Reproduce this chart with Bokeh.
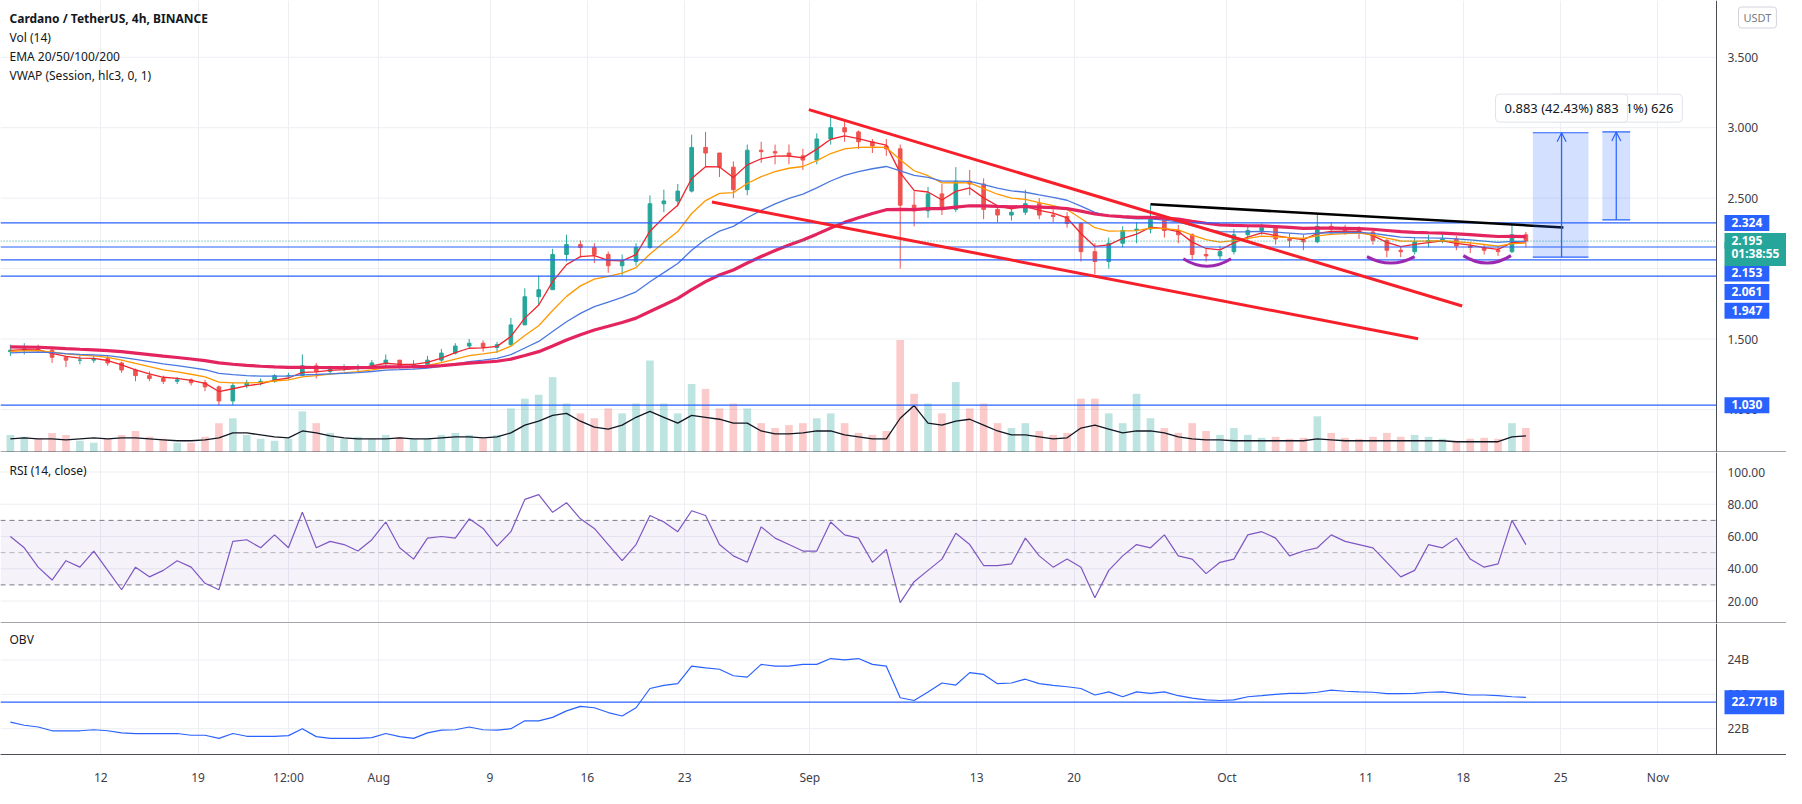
import numpy as np
from bokeh.plotting import figure
from bokeh.layouts import column
from bokeh.models import (Range1d, FixedTicker, Label, Span, Arrow, OpenHead, ColumnDataSource)
from bokeh.embed import file_html
from bokeh.resources import INLINE
from bokeh.core.properties import value

# ---------------- data (x = days since 2021-08-01, first candle = Jul 5) ----------------
first_day = -27
open0 = 1.41
close = [1.42, 1.43, 1.42, 1.37, 1.35, 1.35, 1.36, 1.33, 1.28, 1.24, 1.22, 1.20, 1.21, 1.19, 1.16, 1.06,
         1.17, 1.19, 1.20, 1.24, 1.24, 1.31, 1.27, 1.29, 1.29, 1.30, 1.33,
         1.35, 1.31, 1.32, 1.35, 1.40, 1.45, 1.47, 1.44, 1.46, 1.60, 1.80, 1.85, 2.10, 2.17, 2.15, 2.10,
         2.02, 2.05, 2.15, 2.46, 2.48, 2.55, 2.86, 2.82, 2.72, 2.56, 2.84, 2.83, 2.82, 2.80, 2.77,
         2.92, 3.00, 2.97, 2.90, 2.87, 2.85, 2.45, 2.41, 2.53, 2.42, 2.62, 2.60, 2.42, 2.38, 2.40, 2.46,
         2.38, 2.37, 2.32, 2.12, 2.05, 2.18, 2.27, 2.28, 2.35, 2.27, 2.24, 2.10, 2.09, 2.12,
         2.24, 2.27, 2.29, 2.21, 2.20, 2.19, 2.30, 2.28, 2.27, 2.26, 2.20, 2.13, 2.12, 2.19, 2.20, 2.21,
         2.16, 2.15, 2.13, 2.12, 2.24, 2.195]
high = [1.46, 1.47, 1.46, 1.44, 1.38, 1.38, 1.38, 1.38, 1.34, 1.29, 1.27, 1.24, 1.23, 1.22, 1.21, 1.17,
        1.19, 1.21, 1.22, 1.25, 1.26, 1.39, 1.33, 1.31, 1.32, 1.32, 1.35,
        1.39, 1.35, 1.35, 1.38, 1.43, 1.47, 1.50, 1.49, 1.48, 1.65, 1.86, 1.95, 2.14, 2.24, 2.20, 2.18,
        2.12, 2.10, 2.18, 2.52, 2.56, 2.60, 2.95, 2.97, 2.82, 2.76, 2.88, 2.90, 2.88, 2.88, 2.85,
        2.96, 3.08, 3.05, 2.98, 2.92, 2.92, 2.88, 2.55, 2.58, 2.60, 2.72, 2.70, 2.64, 2.45, 2.45, 2.56,
        2.50, 2.42, 2.40, 2.33, 2.18, 2.22, 2.30, 2.33, 2.45, 2.38, 2.31, 2.25, 2.14, 2.16,
        2.28, 2.31, 2.32, 2.30, 2.25, 2.24, 2.38, 2.33, 2.31, 2.30, 2.27, 2.21, 2.16, 2.22, 2.24, 2.25,
        2.23, 2.19, 2.17, 2.16, 2.31, 2.26]
low = [1.38, 1.39, 1.40, 1.33, 1.30, 1.32, 1.33, 1.31, 1.26, 1.20, 1.20, 1.18, 1.18, 1.17, 1.13, 1.03,
       1.03, 1.15, 1.17, 1.19, 1.21, 1.24, 1.22, 1.25, 1.27, 1.26, 1.29,
       1.31, 1.29, 1.29, 1.31, 1.33, 1.39, 1.43, 1.41, 1.40, 1.45, 1.60, 1.74, 1.85, 2.05, 2.08, 2.04,
       1.97, 1.95, 2.02, 2.14, 2.40, 2.44, 2.54, 2.72, 2.65, 2.50, 2.52, 2.75, 2.74, 2.74, 2.70,
       2.74, 2.88, 2.90, 2.85, 2.82, 2.80, 2.00, 2.30, 2.36, 2.38, 2.40, 2.52, 2.35, 2.33, 2.34, 2.38,
       2.35, 2.33, 2.29, 2.05, 1.96, 2.00, 2.15, 2.18, 2.25, 2.22, 2.18, 2.06, 2.05, 2.06,
       2.10, 2.20, 2.24, 2.17, 2.15, 2.13, 2.18, 2.24, 2.24, 2.21, 2.17, 2.08, 2.08, 2.10, 2.15, 2.18,
       2.13, 2.11, 2.10, 2.09, 2.11, 2.15]
vol_m = [18, 16, 14, 20, 18, 12, 10, 14, 18, 22, 16, 14, 10, 10, 16, 30, 35, 18, 14, 12, 14, 42, 30, 20, 14, 16, 14,
         18, 16, 14, 14, 18, 20, 18, 14, 18, 45, 55, 59, 77, 50, 40, 35, 45, 40, 50, 94, 50, 40, 70, 65, 45, 50,
         45, 30, 25, 28, 30,
         35, 40, 30, 20, 18, 22, 115, 60, 50, 40, 72, 45, 50, 30, 25, 30, 22, 18, 20, 55, 55, 40, 30, 60, 35,
         25, 20, 30, 22, 18,
         25, 18, 15, 16, 14, 15, 37, 20, 15, 14, 16, 20, 16, 18, 16, 14, 12, 14, 15, 14, 30, 25]
vol_ma_m = [14, 15, 14, 14, 13, 14, 15, 14, 15, 15, 14, 13, 12, 12, 13, 15, 20, 20, 18, 16, 15, 22, 20, 17, 15, 14, 14,
            14, 15, 14, 14, 15, 16, 16, 15, 16, 20, 28, 32, 38, 40, 32, 26, 24, 28, 36, 42, 36, 30, 38, 36, 34,
            30, 30, 22, 19, 19, 20,
            22, 22, 18, 16, 14, 14, 35, 48, 30, 28, 32, 34, 28, 22, 18, 18, 16, 14, 15, 25, 28, 24, 20, 22, 22,
            20, 16, 14, 13, 13,
            12, 12, 12, 12, 12, 12, 14, 13, 12, 12, 12, 12, 12, 12, 12, 12, 11, 11, 11, 11, 16, 17]
rsi = [60, 53, 41, 33, 45, 41, 51, 39, 27, 41, 35, 39, 45, 41, 31, 27, 57, 58, 53, 61, 53, 75, 53, 57, 55, 51, 58,
       69, 53, 46, 59, 60, 59, 71, 65, 54, 63, 83, 86, 75, 81, 71, 65, 55, 45, 55, 73, 69, 63, 76, 73, 55, 48,
       44, 66, 59, 55, 51,
       51, 69, 61, 59, 44, 52, 19, 32, 39, 46, 62, 55, 42, 42, 43, 59, 48, 41, 46, 41, 22, 39, 48, 55, 53, 61,
       48, 46, 37, 44,
       46, 61, 63, 59, 48, 51, 53, 61, 57, 55, 53, 44, 35, 39, 55, 53, 59, 46, 41, 43, 70, 55]
obv_b = [22.19, 22.10, 22.05, 21.94, 21.94, 21.94, 21.97, 21.94, 21.88, 21.86, 21.86, 21.86, 21.86, 21.81,
         21.81, 21.72, 21.86, 21.78, 21.78, 21.78, 21.80, 22.00, 21.77, 21.72, 21.72, 21.72, 21.74,
         21.86, 21.77, 21.72, 21.88, 21.96, 21.97, 22.05, 21.97, 21.96, 22.00, 22.23, 22.23, 22.33, 22.52,
         22.65, 22.61, 22.47, 22.37, 22.61, 23.17, 23.26, 23.31, 23.82, 23.77, 23.73, 23.54, 23.50, 23.87,
         23.82, 23.82, 23.87,
         23.87, 24.04, 24.00, 24.04, 23.87, 23.82, 22.90, 22.82, 23.07, 23.33, 23.27, 23.63, 23.58, 23.31,
         23.33, 23.44, 23.31, 23.26, 23.22, 23.17, 22.98, 23.07, 22.93, 23.07, 23.03, 23.07, 22.96, 22.89,
         22.84, 22.82,
         22.84, 22.93, 22.96, 23.00, 23.03, 23.03, 23.06, 23.12, 23.09, 23.07, 23.06, 23.02, 23.02, 23.03,
         23.06, 23.07, 23.03, 22.98, 22.98, 22.96, 22.93, 22.91]

ema_periods = [20, 50, 100, 200]          # in 4h bars
ema_seeds = [1.42, 1.41, 1.40, 1.445]     # values at the left edge of the chart
levels = [2.324, 2.153, 2.061, 1.947, 1.030]
last_price = 2.195
obv_level = 22.771

x_ticks = [-20, -13, -6.5, 0, 8, 15, 22, 31, 43, 50, 61, 71, 78, 85, 92]
x_labels = ["12", "19", "12:00", "Aug", "9", "16", "23", "Sep", "13", "20", "Oct", "11", "18", "25", "Nov"]
price_ticks = [1.0, 1.5, 2.0, 2.5, 3.0, 3.5]
price_tick_labels = ["1.000", "1.500", "2.000", "2.500", "3.000", "3.500"]
rsi_ticks = [20, 40, 60, 80, 100]
rsi_tick_labels = ["20.00", "40.00", "60.00", "80.00", "100.00"]
obv_ticks = [22, 23, 24]
obv_tick_labels = ["22B", "23B", "24B"]

# drawings (day, price)
upper_line = ((30.93, 3.128), (77.92, 1.734))
lower_line = ((23.96, 2.472), (74.75, 1.502))
black_line = ((55.5, 2.456), (85.2, 2.292))
arcs = [(57.86, 61.29, 2.069, 2.016), (71.07, 74.5, 2.085, 2.039), (78.0, 81.43, 2.092, 2.039)]
long1 = (83.0, 87.0, 2.081, 2.964, 85.07)
long2 = (88.0, 90.0, 2.345, 2.970, 89.0)

# ---------------- derived ----------------
n = len(close)
xc = np.arange(first_day, first_day + n) + 0.5
opens = [open0] + close[:-1]
up = [c >= o for c, o in zip(close, opens)]
UP, DN = "#26a69a", "#ef5350"
ccol = [UP if u else DN for u in up]


def ema(vals, bars, seed):
    a = 2.0 / (bars / 6.0 + 1.0)   # daily candles = 6 x 4h bars
    e, out = seed, []
    for v in vals:
        e = e + a * (v - e)
        out.append(e)
    return out


FONT = "Noto Sans"
GRID = "#eceef2"
SEP = "#4a4d57"
AXTXT = "#3d404a"
TXT = "#131722"
BLUE = "#2962ff"
W = 1786
FW = 1716                       # plot area width; the rest is the price scale
H1, H2, H3 = 452, 171, 165
X0 = -27.21
XAX = 96.21                     # x of the price-scale border
PXD = FW / (XAX - X0)           # px per day
X1 = XAX + (W - FW) / PXD

xr = Range1d(X0, X1)
xt = FixedTicker(ticks=x_ticks)


def base_fig(h, yr, bottom=False):
    p = figure(width=W, height=h, x_range=xr, y_range=yr, output_backend="svg",
               toolbar_location=None, y_axis_location=None,
               x_axis_location=("below" if bottom else None), title=None,
               min_border_left=0, min_border_right=0, min_border_top=0,
               min_border_bottom=(31 if bottom else 0),
               outline_line_color=None, background_fill_color="white", border_fill_color="white")
    p.ygrid.grid_line_color = None
    p.xgrid.grid_line_color = GRID
    p.xgrid.ticker = xt
    if bottom:
        xa = p.xaxis[0]
        xa.ticker = xt
        xa.major_label_overrides = {t: l for t, l in zip(x_ticks, x_labels)}
        xa.major_tick_line_color = None
        xa.minor_tick_line_color = None
        xa.axis_line_color = SEP
        xa.major_label_text_font = FONT
        xa.major_label_text_font_size = "12px"
        xa.major_label_text_color = AXTXT
        xa.major_label_standoff = 8
    return p


def price_scale(p, ticks, labels, yr):
    p.segment(x0=[X0] * len(ticks), y0=ticks, x1=[XAX] * len(ticks), y1=ticks,
              line_color=GRID, line_width=1, level="underlay")
    p.quad(left=[XAX], right=[X1 + 1], bottom=[yr.start], top=[yr.end],
           fill_color="white", line_color=None)
    p.text(x=[XAX + 11 / PXD] * len(ticks), y=ticks, text=labels, text_baseline="middle",
           text_align="left", text_font=value(FONT), text_font_size="12px", text_color=AXTXT)
    p.add_layout(Span(location=XAX, dimension="height", line_color=SEP, line_width=1))


def separator(p, yr):
    p.add_layout(Span(location=yr.start, dimension="width", line_color=SEP, line_width=2))


def badge(p, y, text, color, pad_r=7, size="12px"):
    p.add_layout(Label(x=FW + 8, y=y, x_units="screen", y_units="data", text=text,
                       text_font=FONT, text_font_size=size, text_font_style="bold",
                       text_color="white", text_baseline="middle", text_align="left",
                       background_fill_color=color, background_fill_alpha=1.0,
                       padding=dict(left=7, right=pad_r, top=3, bottom=4)))


def note(p, x, y, text, bold=False, size="12px"):
    p.add_layout(Label(x=x, y=y, x_units="screen", y_units="screen", text=text,
                       text_font=FONT, text_font_size=size, text_color=TXT,
                       text_font_style=("bold" if bold else "normal"),
                       text_baseline="middle", text_align="left"))


def hline(p, y, color, width=1.2, dash="solid"):
    p.segment(x0=[X0], y0=[y], x1=[XAX], y1=[y], line_color=color, line_width=width, line_dash=dash)


# ---------------- main pane ----------------
yr1 = Range1d(0.6944, 3.9028)
p1 = base_fig(H1, yr1)

p1.extra_y_ranges = {"vol": Range1d(0, 462)}
p1.vbar(x=xc, top=vol_m, bottom=0, width=0.55, fill_color=ccol, line_color=None,
        fill_alpha=0.3, y_range_name="vol")
p1.line(xc, vol_ma_m, line_color="#131722", line_width=1.3, y_range_name="vol")

src = ColumnDataSource(dict(x=xc, o=opens, c=close, h=high, l=low, col=ccol,
                            top=np.maximum(opens, close), bot=np.minimum(opens, close)))
p1.segment(x0="x", y0="l", x1="x", y1="h", line_color="col", line_width=1, source=src)
p1.vbar(x="x", top="top", bottom="bot", width=0.26, fill_color="col", line_color="col", source=src)

ema_colors = ["#f0262f", "#ff9800", "#4a78e0", "#e4245f"]
ema_widths = [1.3, 1.3, 1.3, 3.2]
for per, seed, colr, lw in zip(ema_periods, ema_seeds, ema_colors, ema_widths):
    p1.line(xc, ema(close, per, seed), line_color=colr, line_width=lw)

for lv in levels:
    hline(p1, lv, BLUE, 1.2)
hline(p1, last_price, UP, 1, "1 2")

for (a, b), colr, lw in [(upper_line, "#f7202a", 3), (lower_line, "#f7202a", 3), (black_line, "#000000", 2.5)]:
    p1.line([a[0], b[0]], [a[1], b[1]], line_color=colr, line_width=lw)
for x0, x1, ye, yb in arcs:
    p1.quadratic(x0=[x0], y0=[ye], x1=[x1], y1=[ye], cx=[(x0 + x1) / 2], cy=[2 * yb - ye],
                 line_color="#9c27b0", line_width=3)

for l, r, b, t, ax in [long1, long2]:
    p1.quad(left=[l], right=[r], bottom=[b], top=[t], fill_color=BLUE, fill_alpha=0.2, line_color=None)
    p1.segment(x0=[l, l], y0=[b, t], x1=[r, r], y1=[b, t], line_color=BLUE, line_width=1.2)
    p1.add_layout(Arrow(end=OpenHead(size=9, line_color=BLUE, line_width=1.2),
                        x_start=ax, y_start=b, x_end=ax, y_end=t, line_color=BLUE, line_width=1.2))

for xx, txt in [(long2[4], "0.626 (26.71%) 626"), (long1[4], "0.883 (42.43%) 883")]:
    p1.add_layout(Label(x=xx, y=3.139, text=txt, text_font=FONT, text_font_size="13px",
                        text_color=TXT, text_align="center", text_baseline="middle",
                        background_fill_color="white", background_fill_alpha=1.0,
                        border_line_color="#e0e3eb", border_line_width=1, border_radius=4,
                        padding=dict(left=9, right=9, top=5, bottom=5)))

price_scale(p1, price_ticks, price_tick_labels, yr1)
separator(p1, yr1)

note(p1, 9, H1 - 18, "Cardano / TetherUS, 4h, BINANCE", bold=True)
note(p1, 9, H1 - 37, "Vol (14)")
note(p1, 9, H1 - 56, "EMA 20/50/100/200")
note(p1, 9, H1 - 75, "VWAP (Session, hlc3, 0, 1)")

p1.add_layout(Label(x=FW + 22, y=H1 - 17, x_units="screen", y_units="screen", text="USDT",
                    text_font=FONT, text_font_size="11px", text_color="#787b86",
                    text_baseline="middle", text_align="left",
                    background_fill_color="white", border_line_color="#d1d4dc",
                    border_radius=3, padding=dict(left=5, right=5, top=3, bottom=3)))

badge(p1, levels[0], "2.324", BLUE)
badge(p1, 1.965, "2.153", BLUE)
badge(p1, 1.833, "2.061", BLUE)
badge(p1, 1.701, "1.947", BLUE)
badge(p1, 2.104, "01:38:55", "#26a69a")
badge(p1, last_price, "2.195", "#26a69a", pad_r=27)
badge(p1, levels[4], "1.030", BLUE)

# ---------------- RSI pane ----------------
yr2 = Range1d(6.06, 112.1)
p2 = base_fig(H2, yr2)
p2.quad(left=[X0], right=[XAX], bottom=[30], top=[70], fill_color="#7e57c2", fill_alpha=0.08,
        line_color=None)
for lv, colr in [(70, "#787b86"), (30, "#787b86"), (50, "#b2b5be")]:
    hline(p2, lv, colr, 1, "5 4")
p2.line(xc, rsi, line_color="#7e57c2", line_width=1.2)
price_scale(p2, rsi_ticks, rsi_tick_labels, yr2)
separator(p2, yr2)
note(p2, 9, H2 - 18, "RSI (14, close)")

# ---------------- OBV pane ----------------
yr3 = Range1d(21.25, 25.06)
p3 = base_fig(H3, yr3, bottom=True)
hline(p3, obv_level, BLUE, 1.3)
p3.line(xc, obv_b, line_color=BLUE, line_width=1.2)
price_scale(p3, obv_ticks, obv_tick_labels, yr3)
note(p3, 9, 134 - 19, "OBV")
badge(p3, obv_level, "22.771B", BLUE)

layout = column(p1, p2, p3, spacing=0)
open("out.html", "w").write(file_html(layout, INLINE))
